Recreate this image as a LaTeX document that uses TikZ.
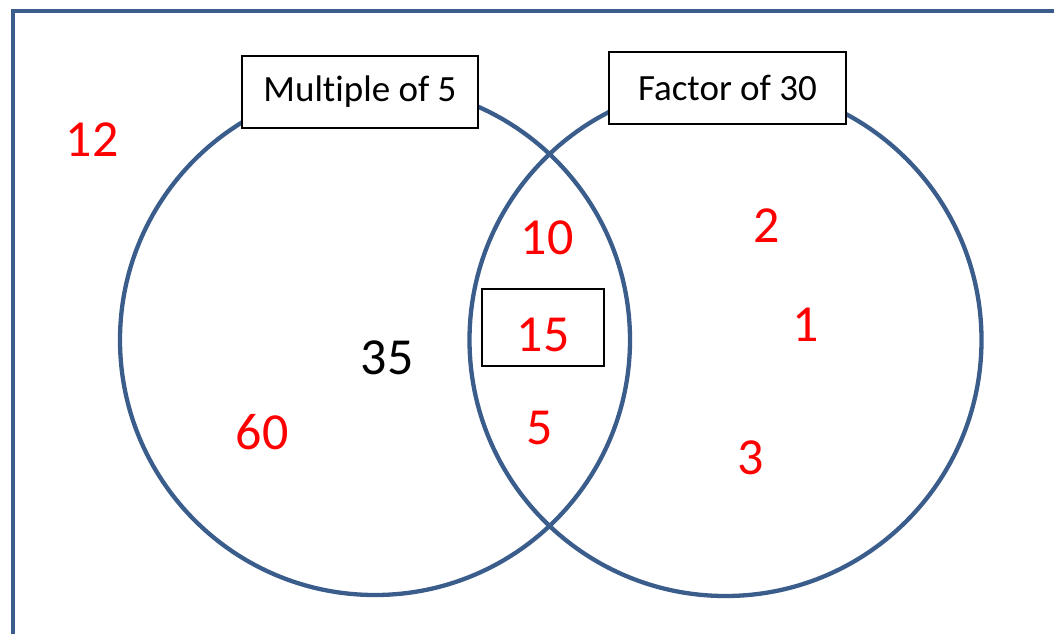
\documentclass[tikz,border=0pt]{standalone}
\usepackage{fontspec}
\setmainfont[Ligatures=NoCommon]{Carlito}
\usepackage{tikz}
\usetikzlibrary{positioning}

\definecolor{setblue}{RGB}{58,93,140}
\definecolor{numred}{RGB}{255,0,0}

\tikzset{
  setline/.style={draw=setblue, line width=4.3pt},
  setcircle/.style={setline, circle, minimum size=510pt, inner sep=0pt},
  labelbox/.style={draw=black, line width=1.4pt, fill=white, minimum width=236pt, minimum height=72pt, font=\fontsize{37}{44}\selectfont},
  num/.style={text=numred, font=\fontsize{52}{60}\selectfont, inner sep=0pt}
}

\begin{document}
\begin{tikzpicture}[x=1pt,y=-1pt]

\useasboundingbox (0,0) rectangle (1054,634);

% Frame
\draw[setline] (13,700)--(13,11)--(1100,11);

% Sets
\node[setcircle] (mult) at (375,340) {};
\node[setcircle, minimum size=512pt] (fact) at (725.5,340) {};

% Set labels
\node[labelbox] (multlabel) at (360,92) {Multiple of 5};
\node[labelbox, minimum width=237pt] (factlabel) at (727.5,88) {Factor of 30};

% Boxed number
\node[draw=black, line width=1.4pt, minimum width=122pt, minimum height=77pt] (box15) at (543,327.5) {};

% Numbers
\node[num] (n12) at (92,140) {12};
\node[num] (n10) at (547,238) {10};
\node[num] (n15) at (543,335) {15};
\node[num, text=black] (n35) at (387,358) {35};
\node[num] (n60) at (262,432) {60};
\node[num] (n5) at (540,428) {5};
\node[num] (n2) at (767,226) {2};
\node[num] (n1) at (806,325) {1};
\node[num] (n3) at (751,458) {3};

\end{tikzpicture}
\end{document}
